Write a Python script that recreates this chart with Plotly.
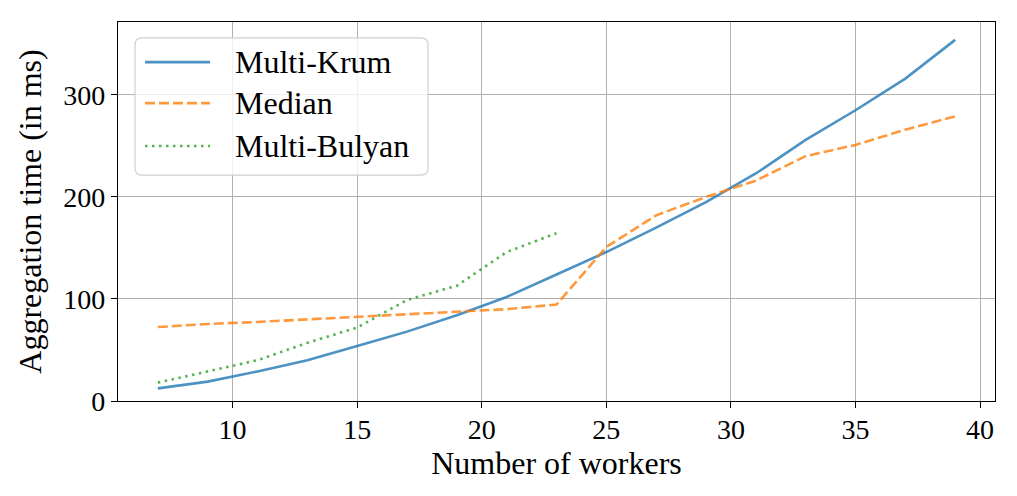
import plotly.graph_objects as go

workers = [7, 9, 11, 13, 15, 17, 19, 21, 23, 25, 27, 29, 31, 33, 35, 37, 39]
krum = [12.4, 19, 29, 40, 54, 68, 84, 102, 124, 146, 170, 195, 223, 256, 285, 316, 354]
median = [72.5, 75.5, 77.5, 80, 82.5, 85, 87, 90, 94.5, 151, 182, 200, 216, 240, 251, 266, 279]
bulyan_workers = [7, 9, 11, 13, 15, 17, 19, 21, 23]
bulyan = [18, 29, 40, 57, 72, 99, 113, 146, 164.5]

names = ["Multi-Krum", "Median", "Multi-Bulyan"]
colors = ["rgba(31,119,180,0.8)", "rgba(255,127,14,0.8)", "rgba(44,160,44,0.8)"]
dashes = ["solid", "10px,4px", "2.5px,4.5px"]

FONT = "Liberation Serif"
FS_TICK = 28
FS_TEXT = 32

fig = go.Figure()
fig.add_trace(go.Scatter(x=workers, y=krum, mode="lines", name=names[0],
                         line=dict(color=colors[0], width=2.6, dash=dashes[0])))
fig.add_trace(go.Scatter(x=workers, y=median, mode="lines", name=names[1],
                         line=dict(color=colors[1], width=2.6, dash=dashes[1])))
fig.add_trace(go.Scatter(x=bulyan_workers, y=bulyan, mode="lines", name=names[2],
                         line=dict(color=colors[2], width=2.6, dash=dashes[2])))

axis_common = dict(showgrid=True, gridcolor="#b0b0b0", gridwidth=1.3,
                   showline=True, linecolor="black", linewidth=1.3, mirror=True,
                   ticks="outside", ticklen=6, tickwidth=1.3, tickcolor="black",
                   zeroline=False,
                   tickfont=dict(family=FONT, size=FS_TICK, color="black"))

fig.update_xaxes(range=[5.4, 40.6], tickvals=[10, 15, 20, 25, 30, 35, 40],
                 ticklabelstandoff=-3,
                 title=dict(text="Number of workers", font=dict(family=FONT, size=FS_TEXT, color="black"), standoff=1),
                 **axis_common)
fig.update_yaxes(range=[0, 371.5], tickvals=[0, 100, 200, 300],
                 title=dict(text="Aggregation time (in ms)", font=dict(family=FONT, size=FS_TEXT, color="black"), standoff=12),
                 **axis_common)

# Manual legend (matplotlib-like) in paper coordinates
x0, x1, y0, y1 = 0.0194, 0.3535, 0.596, 0.958
r = 0.008
ry = r * 877 / 379
path = (f"M {x0+r},{y0} L {x1-r},{y0} Q {x1},{y0} {x1},{y0+ry} L {x1},{y1-ry} Q {x1},{y1} {x1-r},{y1} "
        f"L {x0+r},{y1} Q {x0},{y1} {x0},{y1-ry} L {x0},{y0+ry} Q {x0},{y0} {x0+r},{y0} Z")
shapes = [dict(type="path", path=path, xref="paper", yref="paper",
               fillcolor="rgba(255,255,255,0.8)", line=dict(color="#d0d0d0", width=1.2), layer="above")]
rows = [0.894, 0.786, 0.673]
annotations = []
for i, yy in enumerate(rows):
    shapes.append(dict(type="line", xref="paper", yref="paper", x0=0.0308, x1=0.1049, y0=yy, y1=yy,
                       line=dict(color=colors[i], width=2.6, dash=dashes[i]), layer="above"))
    annotations.append(dict(x=0.131, y=yy, xref="paper", yref="paper", text=names[i], showarrow=False,
                            xanchor="left", yanchor="middle",
                            font=dict(family=FONT, size=FS_TEXT, color="black")))

# page body has an 8px default margin, so offsets are compensated here
fig.update_layout(width=1017, height=496, margin=dict(l=110, r=30, t=14, b=103),
                  plot_bgcolor="white", paper_bgcolor="white", showlegend=False,
                  shapes=shapes, annotations=annotations)

fig.write_html("out.html")
